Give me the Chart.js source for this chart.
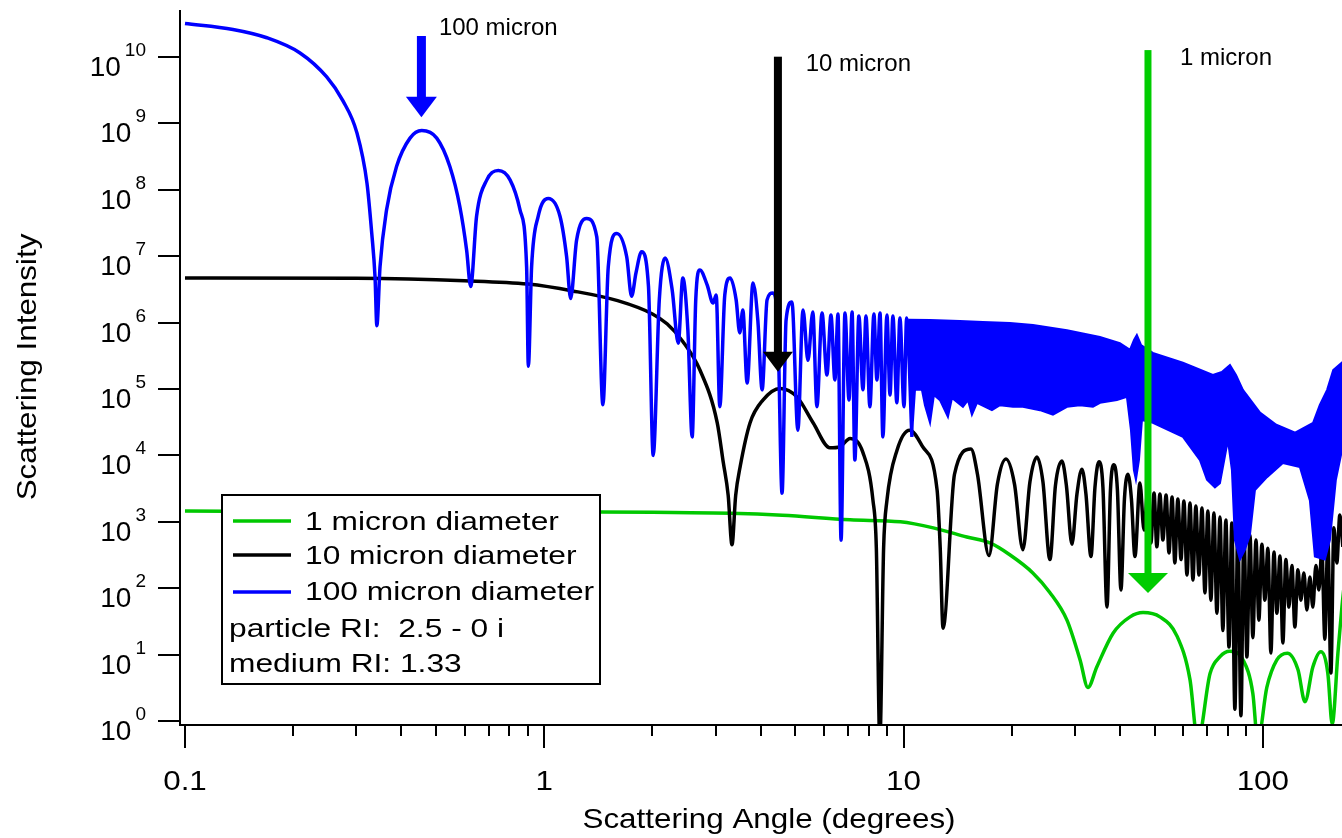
<!DOCTYPE html>
<html>
<head>
<meta charset="utf-8">
<title>Scattering intensity vs scattering angle</title>
<script src="https://cdn.jsdelivr.net/npm/chart.js"></script>
<style>
  html, body { margin: 0; padding: 0; background: #fff; }
  canvas { display: block; }
</style>
</head>
<body>
<canvas id="chart" width="1342" height="838" role="img"
  aria-label="Log-log plot of scattering intensity against scattering angle for 1, 10 and 100 micron particles"></canvas>
<script>
/* Values. Angles in degrees, intensity in
   arbitrary units (both axes logarithmic). */

// 1 micron diameter
const greenAngles = [
  0.1, 0.3, 1, 2, 3.3, 4.6, 7.1, 9.8, 12.1, 15,
  17.4, 19.8, 22.9, 25.5, 28.5, 31, 32.6, 34.5, 38.3, 42.7,
  46.4, 51.7, 57.7, 62.7, 65.9, 71.3, 76, 80.9, 88.1, 93.8,
  96.8, 102.6, 109.4, 117, 125.3, 131, 137.8, 145, 151.7, 156,
  161.8, 166, 172,
];
const greenValues = [
  1450, 1440, 1420, 1390, 1350, 1260, 1070, 1000, 810, 590,
  480, 316, 170, 87, 33, 8.3, 3.2, 6.5, 21, 37,
  43, 37, 19, 4.2, 0.5, 5.2, 9.3, 11.2, 8.3, 2.6,
  0.5, 3.2, 8.3, 10.5, 5.9, 1.95, 6.5, 11, 5.2, 0.9,
  10.5, 52, 300,
];

// 10 micron diameter
const blackAngles = [
  0.1, 0.3, 0.6, 0.9, 1.2, 1.6, 2.0, 2.2, 2.43, 2.71,
  3.03, 3.15, 3.25, 3.33, 3.41, 3.51, 3.74, 4.06, 4.53, 5.05,
  5.6, 6.24, 6.65, 7.1, 7.71, 8.22, 8.4, 8.59, 8.8, 8.99,
  9.59, 10.4, 11.3, 12.4, 12.65, 12.88,
  13.86, 15.4, 16.06, 17.29, 18.25, 19.28, 20.36, 21.49, 22.48, 23.51,
  24.43, 25.55, 26.47, 27.59, 28.4, 29.42, 30.38, 31.37, 32.19, 33.24,
  34.1, 34.99, 35.89, 36.83, 37.66, 38.51, 39.38, 40.28, 41.19, 42.12,
  43.08, 44.06, 45.49,
  46.7, 47.9, 48.8, 49.8, 50.7, 51.7, 52.7, 53.8, 54.8, 55.9,
  56.9, 58.0, 59.2, 60.3, 61.5, 62.7, 63.9, 65.1, 66.4, 67.7,
  69.0, 70.3, 71.7, 73.1, 74.5, 76.0, 77.4, 78.9, 80.5, 82.0,
  83.6, 85.2, 86.9, 88.6, 90.3, 92.1, 93.8, 95.7, 97.5, 99.4,
  101.3, 103.3, 105.3, 107.4, 109.4, 111.6, 113.7, 115.9, 118.2, 120.5,
  122.8, 125.2, 127.6, 130.1, 132.6, 135.2, 137.8, 140.5, 143.2, 146.0,
  148.8, 151.7, 154.7, 157.7, 160.7, 163.8, 167.0,
];
const blackValues = [
  4.7e6, 4.65e6, 4.27e6, 3.8e6, 3.0e6, 2.14e6, 1.35e6, 9.5e5, 5.2e5, 1.95e5,
  3.1e4, 7.8e3, 2.5e3, 450, 2.5e3, 6.8e3, 3.1e4, 6.8e4, 1.02e5, 7.6e4,
  3.1e4, 1.3e4, 1.35e4, 1.8e4, 1.1e4, 2.1e3, 400, 0.5, 400, 2.1e3,
  1.2e4, 2.4e4, 1.35e4, 3.0e3, 400, 25,
  5.2e3, 1.25e4, 5.2e3, 310, 3.7e3, 8.8e3, 3.7e3, 380, 4.0e3, 9.5e3,
  4.0e3, 270, 3.5e3, 8.2e3, 3.5e3, 460, 2.6e3, 6.2e3, 2.6e3, 300,
  3.3e3, 8.0e3, 3.3e3, 52, 3.0e3, 7.2e3, 3.0e3, 94, 2.2e3, 5.2e3,
  2.2e3, 300, 3.84e3,
  750, 3230, 480, 2720, 420, 2620, 530, 2530, 340, 2360,
  240, 2200, 270, 2060, 158, 1920, 133, 1730, 158, 1610,
  85, 1460, 66, 1360, 42, 1180, 23, 1060, 13, 960,
  1.5, 840, 1.2, 750, 9.2, 630, 18, 530, 33, 460,
  66, 400, 10.6, 350, 42, 305, 15, 270, 52, 220,
  26, 190, 66, 170, 47, 147, 52, 220, 94, 380,
  17, 530, 5.3, 810, 240, 1270, 420,
];

// 100 micron diameter: resolved lobes up to ~10 degrees
const blueAngles = [
  0.1, 0.136, 0.169, 0.209, 0.248, 0.275, 0.301, 0.321, 0.331, 0.338,
  0.342, 0.349, 0.364, 0.388, 0.423, 0.456, 0.502, 0.546, 0.582, 0.608,
  0.624, 0.648, 0.692, 0.745, 0.803, 0.856, 0.893, 0.903, 0.922, 0.962,
  1.026, 1.106, 1.154, 1.184, 1.23, 1.312, 1.40, 1.456, 1.507, 1.591,
  1.696, 1.75, 1.80, 1.866, 1.95, 2.01,
  2.09, 2.17, 2.27, 2.36, 2.43, 2.51, 2.58, 2.64, 2.71, 2.84,
  2.95, 3.01, 3.08, 3.18, 3.29, 3.42, 3.50, 3.57, 3.67, 3.81,
  3.93, 4.04, 4.17, 4.33, 4.47, 4.59, 4.71, 4.89, 5.08, 5.25,
  5.42, 5.59, 5.74, 5.93, 6.12, 6.28, 6.44, 6.57, 6.70, 6.87,
  7.05, 7.19, 7.32, 7.51, 7.71, 7.86, 8.06, 8.27, 8.43, 8.60,
  8.76, 8.99, 9.17, 9.34, 9.58, 9.77, 10.03, 10.2, 10.55,
];
const blueValues = [
  3.2e10, 2.6e10, 1.95e10, 1.15e10, 5.0e9, 2.2e9, 7.2e8, 1.26e8, 2.2e7, 4.9e6,
  9e5, 6.9e6, 5.0e7, 2.24e8, 6.0e8, 7.8e8, 6.0e8, 2.24e8, 5.6e7, 1.23e7,
  3.5e6, 4.0e7, 1.41e8, 1.95e8, 1.41e8, 5.0e7, 6.9e6, 2.2e5, 6.9e6, 4.0e7,
  7.4e7, 4.0e7, 9.8e6, 2.3e6, 1.74e7, 3.7e7, 1.95e7, 5.8e4, 6.9e6, 2.2e7,
  9.8e6, 2.5e6, 5.6e6, 1.17e7, 3.5e6, 1.0e4,
  2.2e6, 9.4e6, 3.1e6, 4.9e5, 4.7e6, 7.7e5, 1.9e4, 2.2e6, 6.2e6, 3.7e6,
  1.97e6, 2.6e6, 5.4e4, 2.6e6, 4.7e6, 2.2e6, 7.0e5, 1.55e6, 1.23e5, 3.95e6,
  1.09e6, 9.7e4, 2.2e6, 2.8e6, 7.7e5, 2.7e3, 1.09e6, 2.04e6, 2.4e4, 1.55e6,
  2.7e5, 1.45e6, 5.4e4, 1.4e6, 1.63e5, 1.3e6, 1.37e5, 1.35e6, 5.3e2, 1.4e6,
  6.8e4, 1.45e6, 8.5e3, 1.26e6, 9.7e4, 1.26e6, 5.4e4, 1.35e6, 1.37e5, 1.4e6,
  1.9e4, 1.3e6, 8.1e4, 1.26e6, 6.2e4, 1.17e6, 5.4e4, 1.17e6, 1.9e4,
];

// 100 micron beyond ~10 degrees: the fringes merge into a band,
// read as its upper and lower edges.
const blueBandTopAngles = [
  10.3, 11.85, 14.35, 16.63, 19.78, 22.92, 28.5, 35.2, 40.0, 42.7,
  43.8, 44.6, 45.8, 49.4, 59.9, 72.6, 76.9, 81.0, 84.2, 88.0,
  98.2, 109, 123, 138, 144, 151, 157, 166, 170,
];
const blueBandTop = [
  1.1e6, 1.09e6, 1.06e6, 1.02e6, 9.9e5, 9.2e5, 7.7e5, 6.1e5, 4.9e5, 3.9e5,
  5.5e5, 6.5e5, 4.6e5, 3.5e5, 2.5e5, 1.63e5, 1.8e5, 2.3e5, 1.63e5, 9.7e4,
  4.4e4, 2.9e4, 2.2e4, 3.1e4, 5.7e4, 9.7e4, 1.93e5, 2.5e5, 2.7e5,
];
const blueBandBottomAngles = [
  10.55, 10.76, 11.25, 11.47, 11.85, 12.15, 12.63, 13.29, 13.64, 14.63,
  15.11, 15.5, 16.01, 17.62, 18.55, 20.16, 21.49, 23.97, 26.05, 28.5,
  30.97, 33.66, 35.21, 39.26, 41.85, 42.95, 43.77, 44.34, 45.2, 46.08,
  49.44, 59.94, 66.84, 69.91, 73.57, 75.96, 79.96, 82.03, 83.62, 86.36,
  89.17, 92.06, 95.06, 102.7, 113.7, 126.8, 135.2, 139.6, 148.8, 153.7,
  159.7, 166.1, 170,
];
const blueBandBottom = [
  1.9e4, 9.7e4, 9.7e4, 5.7e4, 3.1e4, 8.1e4, 6.8e4, 3.8e4, 7.3e4, 5.4e4,
  6.8e4, 4.1e4, 6.2e4, 4.8e4, 5.7e4, 5.4e4, 5.4e4, 4.8e4, 4.1e4, 5.4e4,
  5.7e4, 5.4e4, 6.2e4, 6.8e4, 7.6e4, 2.4e4, 6.0e3, 4.3e3, 8.5e3, 3.4e4,
  3.1e4, 1.9e4, 8.5e3, 4.3e3, 3.3e3, 3.8e3, 1.7e4, 6.0e3, 5.3e2, 2.7e2,
  3.8e2, 6.3e2, 3.0e3, 4.7e3, 7.7e3, 6.7e3, 2.1e3, 3.0e2, 2.7e2, 5.3e2,
  4.3e3, 1.2e4, 1.7e4,
];

// Axis ticks
const xMajorTicks = [0.1, 1, 10, 100];
const xTickLabels = ['0.1', '1', '10', '100'];
const xMinorTicks = [
  0.2, 0.3, 0.4, 0.5, 0.6, 0.7, 0.8, 0.9,
  2, 3, 4, 5, 6, 7, 8, 9,
  20, 30, 40, 50, 60, 70, 80, 90,
];
const yTickExponents = [0, 1, 2, 3, 4, 5, 6, 7, 8, 9, 10];

// Arrow annotations (angle, intensity at shaft top / head base / tip)
const arrowNames = ['100 micron', '10 micron', '1 micron'];
const arrowAngles = [0.455, 4.47, 47.9];
const arrowTops = [2.07e10, 1.01e10, 1.27e10];
const arrowHeads = [2.52e9, 3.65e5, 169];
const arrowTips = [1.24e9, 1.82e5, 84.7];
const arrowLabelAngles = [0.509, 5.34, 58.8];
const arrowLabelValues = [2.15e10, 6.15e9, 7.6e9];

const legendLabels = ['1 micron diameter', '10 micron diameter', '100 micron diameter'];
const legendNotes = ['particle RI:  2.5 - 0 i', 'medium RI: 1.33'];

const FONT = "'Liberation Sans', Arial, Helvetica, sans-serif";
const GREEN = '#00c800';
const BLACK = '#000000';
const BLUE = '#0000ff';
const SERIES_COLORS = [GREEN, BLACK, BLUE];
const ARROW_STYLE = [
  { color: BLUE, shaft: 9, head: 31 },
  { color: BLACK, shaft: 8, head: 30 },
  { color: '#00cc00', shaft: 7, head: 40 },
];

function pairs(xs, ys) {
  if (xs.length !== ys.length) {
    throw new Error('length mismatch: ' + xs.length + ' vs ' + ys.length);
  }
  return xs.map((x, i) => ({ x, y: ys[i] }));
}

// Band outline: upper edge left to right, then lower edge back.
const bandPoints = pairs(blueBandTopAngles, blueBandTop)
  .concat(pairs(blueBandBottomAngles, blueBandBottom).reverse());

function text(ctx, str, x, y, size, sx, align) {
  ctx.save();
  ctx.font = size + 'px ' + FONT;
  ctx.textAlign = align || 'left';
  ctx.textBaseline = 'alphabetic';
  ctx.translate(x, y);
  ctx.scale(sx, 1);
  ctx.fillText(str, 0, 0);
  ctx.restore();
}

/* Igor-style frame: axes, ticks, superscript labels, legend box and arrows,
   all placed through the chart's own scales. */
const frame = {
  id: 'frame',
  afterDatasetsDraw(chart) {
    const { ctx, chartArea: a, scales: { x, y } } = chart;
    ctx.save();

    // arrows and their captions
    arrowAngles.forEach((ang, i) => {
      const st = ARROW_STYLE[i];
      const px = x.getPixelForValue(ang);
      const top = y.getPixelForValue(arrowTops[i]);
      const head = y.getPixelForValue(arrowHeads[i]);
      const tip = y.getPixelForValue(arrowTips[i]);
      ctx.fillStyle = st.color;
      ctx.fillRect(px - st.shaft / 2, top, st.shaft, head - top + 1);
      ctx.beginPath();
      ctx.moveTo(px - st.head / 2, head);
      ctx.lineTo(px + st.head / 2, head);
      ctx.lineTo(px, tip);
      ctx.closePath();
      ctx.fill();
      ctx.fillStyle = '#000';
      text(ctx, arrowNames[i], x.getPixelForValue(arrowLabelAngles[i]),
        y.getPixelForValue(arrowLabelValues[i]), 24, 1.0, 'left');
    });

    // legend
    ctx.fillStyle = '#fff';
    ctx.fillRect(222, 495, 378, 189);
    ctx.strokeStyle = '#000';
    ctx.lineWidth = 2;
    ctx.strokeRect(222, 495, 378, 189);
    const rowMid = [521, 555, 592];
    const rowBase = [530, 564, 600];
    legendLabels.forEach((lbl, i) => {
      ctx.strokeStyle = SERIES_COLORS[i];
      ctx.lineWidth = 3.5;
      ctx.beginPath();
      ctx.moveTo(233, rowMid[i]);
      ctx.lineTo(291, rowMid[i]);
      ctx.stroke();
      ctx.fillStyle = '#000';
      text(ctx, lbl, 305, rowBase[i], 26, 1.22, 'left');
    });
    text(ctx, legendNotes[0], 229, 637, 26, 1.22, 'left');
    text(ctx, legendNotes[1], 229, 672, 26, 1.22, 'left');

    // axes
    ctx.strokeStyle = '#000';
    ctx.lineWidth = 2;
    ctx.beginPath();
    ctx.moveTo(a.left, a.top);
    ctx.lineTo(a.left, a.bottom + 1);
    ctx.moveTo(a.left - 1, a.bottom);
    ctx.lineTo(a.right, a.bottom);
    ctx.stroke();

    // x ticks
    ctx.beginPath();
    xMajorTicks.forEach(v => {
      const px = Math.round(x.getPixelForValue(v));
      ctx.moveTo(px, a.bottom);
      ctx.lineTo(px, a.bottom + 23);
    });
    xMinorTicks.forEach(v => {
      const px = Math.round(x.getPixelForValue(v));
      ctx.moveTo(px, a.bottom);
      ctx.lineTo(px, a.bottom + 11);
    });
    ctx.stroke();
    ctx.fillStyle = '#000';
    xMajorTicks.forEach((v, i) => {
      text(ctx, xTickLabels[i], x.getPixelForValue(v), 790, 28, 1.12, 'center');
    });

    // y ticks with 10^n labels
    yTickExponents.forEach(e => {
      const py = Math.round(y.getPixelForValue(Math.pow(10, e)));
      ctx.beginPath();
      ctx.moveTo(158, py);
      ctx.lineTo(a.left, py);
      ctx.stroke();
      ctx.font = '19px ' + FONT;
      const ew = ctx.measureText(String(e)).width;
      const ex = 146 - ew;
      text(ctx, String(e), ex, py - 1, 19, 1.0, 'left');
      text(ctx, '10', ex - 4, py + 19, 28, 1.0, 'right');
    });

    // axis titles
    text(ctx, 'Scattering Angle (degrees)', 769, 828, 28, 1.12, 'center');
    ctx.save();
    ctx.translate(36, 367);
    ctx.rotate(-Math.PI / 2);
    text(ctx, 'Scattering Intensity', 0, 0, 28, 1.12, 'center');
    ctx.restore();

    ctx.restore();
  },
};

new Chart(document.getElementById('chart'), {
  type: 'line',
  data: {
    datasets: [
      {
        label: '100 micron diameter',
        data: pairs(blueAngles, blueValues),
        borderColor: BLUE,
        borderWidth: 3.5,
        cubicInterpolationMode: 'monotone',
        pointRadius: 0,
        fill: false,
        order: 0,
      },
      {
        label: '100 micron diameter (dense fringes)',
        data: bandPoints,
        borderColor: BLUE,
        backgroundColor: BLUE,
        borderWidth: 2,
        tension: 0,
        pointRadius: 0,
        fill: 'shape',
        order: 0,
      },
      {
        label: '10 micron diameter',
        data: pairs(blackAngles, blackValues),
        borderColor: BLACK,
        borderWidth: 3.5,
        cubicInterpolationMode: 'monotone',
        pointRadius: 0,
        fill: false,
        order: 1,
      },
      {
        label: '1 micron diameter',
        data: pairs(greenAngles, greenValues),
        borderColor: GREEN,
        borderWidth: 3.5,
        cubicInterpolationMode: 'monotone',
        pointRadius: 0,
        fill: false,
        order: 2,
      },
    ],
  },
  options: {
    responsive: false,
    animation: false,
    events: [],
    layout: { padding: { left: 180, right: 0, top: 10, bottom: 113 } },
    plugins: {
      legend: { display: false },
      tooltip: { enabled: false },
    },
    scales: {
      x: { type: 'logarithmic', display: false, bounds: 'data', min: 0.09685, max: 166.1 },
      y: { type: 'logarithmic', display: false, bounds: 'data', min: 0.8706, max: 5.1e10 },
    },
  },
  plugins: [frame],
});
</script>
</body>
</html>
